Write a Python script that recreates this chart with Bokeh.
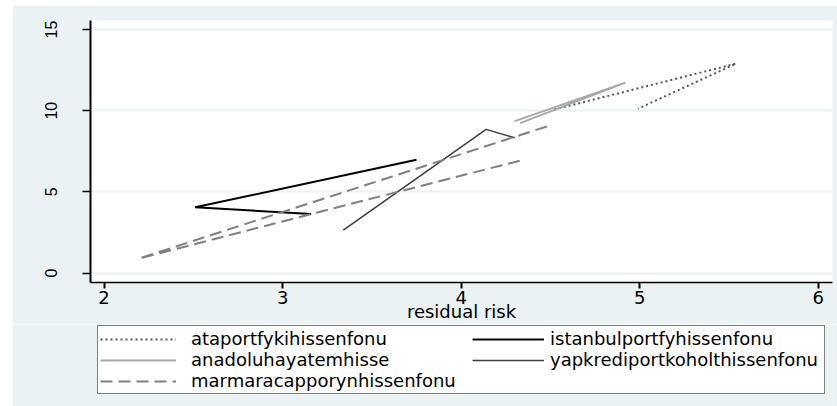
from bokeh.plotting import figure
from bokeh.models import FixedTicker, Legend, LegendItem, Spacer
from bokeh.layouts import column, row
from bokeh.embed import file_html
from bokeh.resources import INLINE

BG = "#EAF2F3"

# data (x = residual risk, y = return)
ata_x = [4.52, 5.54, 4.99]
ata_y = [10.07, 12.90, 10.12]
ist_x = [3.75, 2.51, 3.16]
ist_y = [6.98, 4.05, 3.64]
ana_x = [4.30, 4.92, 4.33]
ana_y = [9.36, 11.73, 9.23]
yap_x = [3.34, 4.14, 4.30]
yap_y = [2.65, 8.85, 8.33]
mar_x = [4.48, 2.195, 3.16, 4.35]
mar_y = [9.03, 0.90, 3.64, 6.98]

x_ticks = [2, 3, 4, 5, 6]
y_ticks = [0, 5, 10, 15]
x_label = "residual risk"
names = ["ataportfykihissenfonu", "istanbulportfyhissenfonu", "anadoluhayatemhisse",
         "yapkrediportkoholthissenfonu", "marmaracapporynhissenfonu"]

styles = [
    dict(line_color="#555555", line_width=2, line_dash="2 3"),
    dict(line_color="#000000", line_width=2),
    dict(line_color="#A8A8A8", line_width=1.8),
    dict(line_color="#3C3C3C", line_width=1.5),
    dict(line_color="#808080", line_width=2, line_dash="12 6"),
]

# ---- main plot -------------------------------------------------------------
p = figure(width=825, height=319, x_range=(1.924, 6.080), y_range=(-0.58, 15.555),
           output_backend="svg", toolbar_location=None,
           min_border_left=78, min_border_right=5, min_border_top=15, min_border_bottom=42)
p.background_fill_color = "white"
p.border_fill_color = BG
p.outline_line_color = None

p.xgrid.visible = False
p.ygrid.ticker = FixedTicker(ticks=y_ticks)
p.ygrid.grid_line_color = BG
p.ygrid.grid_line_width = 2

p.xaxis.ticker = FixedTicker(ticks=x_ticks)
p.yaxis.ticker = FixedTicker(ticks=y_ticks)
for ax in (p.xaxis[0], p.yaxis[0]):
    ax.axis_line_color = "black"
    ax.major_tick_line_color = "black"
    ax.minor_tick_line_color = None
    ax.major_tick_in = 0
    ax.major_label_text_color = "black"

p.xaxis.major_tick_out = 6
p.xaxis.axis_line_width = 1.4
p.xaxis.major_tick_line_width = 2
p.xaxis.major_label_text_font = "DejaVu Sans"
p.xaxis.major_label_text_font_size = "18px"
p.xaxis.major_label_standoff = 2
p.xaxis.axis_label = x_label
p.xaxis.axis_label_text_font = "DejaVu Sans"
p.xaxis.axis_label_text_font_size = "18px"
p.xaxis.axis_label_text_font_style = "normal"
p.xaxis.axis_label_text_color = "black"
p.xaxis.axis_label_standoff = -6

p.yaxis.major_tick_out = 8
p.yaxis.axis_line_width = 2
p.yaxis.major_tick_line_width = 1.4
p.yaxis.major_label_orientation = "vertical"
p.yaxis.major_label_text_font = "Liberation Sans"
p.yaxis.major_label_text_font_size = "16px"
p.yaxis.major_label_standoff = 25

series = [(ata_x, ata_y), (ist_x, ist_y), (ana_x, ana_y), (yap_x, yap_y), (mar_x, mar_y)]
for (xs, ys), st in zip(series, styles):
    p.line(xs, ys, **st)

# ---- legend panel (frame aligned with the main plot frame) -----------------
lf = figure(width=825, height=82, x_range=(0, 1), y_range=(0, 1),
            output_backend="svg", toolbar_location=None,
            x_axis_type=None, y_axis_type=None,
            min_border_left=78, min_border_right=5, min_border_top=0, min_border_bottom=0)
lf.background_fill_color = BG
lf.border_fill_color = BG
lf.outline_line_color = None
lf.grid.visible = False
# legend-only renderers, kept outside the visible range
dummies = [lf.line([5, 6], [5, 6], **st) for st in styles]

common = dict(label_text_font="DejaVu Sans", label_text_font_size="18px",
              label_text_color="black", padding=2, spacing=0,
              glyph_height=20, label_height=20, margin=0)

leg1 = Legend(items=[LegendItem(label=names[0], renderers=[dummies[0]]),
                     LegendItem(label=names[2], renderers=[dummies[2]]),
                     LegendItem(label=names[4], renderers=[dummies[4]])],
              location=(7, 12), orientation="vertical",
              glyph_width=76, label_standoff=15, label_width=631,
              border_line_color="black", border_line_width=1.3,
              background_fill_color="white", background_fill_alpha=1.0, **common)
leg2 = Legend(items=[LegendItem(label=names[1], renderers=[dummies[1]]),
                     LegendItem(label=names[3], renderers=[dummies[3]])],
              location=(382, 36), orientation="vertical",
              glyph_width=72, label_standoff=6,
              border_line_color=None, background_fill_alpha=0.0, **common)
lf.add_layout(leg1, "center")
lf.add_layout(leg2, "center")

layout = column(Spacer(height=5), row(Spacer(width=12), p), row(Spacer(width=12), lf))
open("out.html", "w").write(file_html(layout, INLINE))
